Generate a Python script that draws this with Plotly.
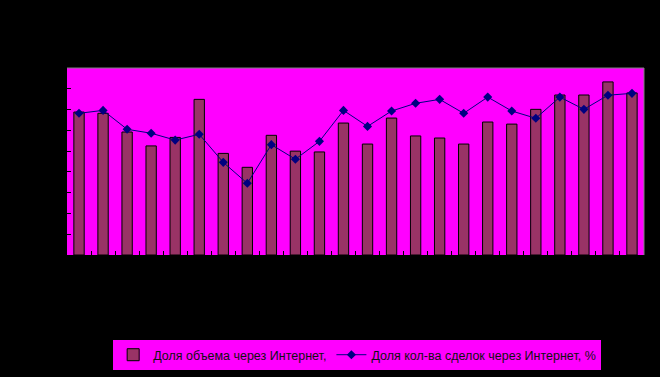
import plotly.graph_objects as go

periods = [str(i) for i in range(1, 25)]
volume_share = [6.88, 6.82, 5.92, 5.25, 5.66, 7.49, 4.89, 4.22, 5.76, 5.00, 4.96, 6.35,
                5.34, 6.59, 5.73, 5.63, 5.34, 6.40, 6.30, 7.01, 7.70, 7.70, 8.33, 7.80]
deals_share = [6.82, 6.96, 6.05, 5.86, 5.53, 5.81, 4.46, 3.45, 5.31, 4.61, 5.47, 6.96,
               6.19, 6.93, 7.30, 7.49, 6.82, 7.60, 6.93, 6.58, 7.60, 7.01, 7.69, 7.78]
y_ticks = list(range(0, 10))

fig = go.Figure()
fig.add_trace(go.Bar(
    x=periods, y=volume_share, name="Доля объема через Интернет,",
    marker=dict(color="#993366", line=dict(color="black", width=1)),
))
fig.add_trace(go.Scatter(
    x=periods, y=deals_share, name="Доля кол-ва сделок через Интернет, %",
    mode="lines+markers",
    line=dict(color="#000080", width=1),
    marker=dict(symbol="diamond", size=7, color="#000080"),
))

fig.update_layout(
    width=660, height=377,
    margin=dict(l=67, r=16, t=68, b=122, autoexpand=False),
    paper_bgcolor="black", plot_bgcolor="#FF00FF",
    bargap=0.57,
    showlegend=True,
    legend=dict(orientation="h", x=0.08, xanchor="left", y=-0.455, yanchor="top",
                bgcolor="#FF00FF", borderwidth=0, tracegroupgap=0,
                font=dict(family="Liberation Sans", size=12.5, color="#111111")),
    font=dict(family="Liberation Sans", size=11, color="black"),
)
fig.update_xaxes(type="category", range=[-0.5, 23.5], tickson="boundaries",
                 ticks="inside", ticklen=4, automargin=False,
                 tickcolor="black", showgrid=False, showline=True, linecolor="black",
                 linewidth=1, tickfont=dict(color="black"))
fig.update_yaxes(range=[0, 9], tickvals=y_ticks, ticks="inside", ticklen=4,
                 automargin=False,
                 tickcolor="black", showgrid=False, zeroline=False, showline=True,
                 linecolor="black", linewidth=1, tickfont=dict(color="black"))
fig.add_shape(type="line", xref="paper", yref="paper", x0=0, x1=1, y0=1, y1=1,
              line=dict(color="#808080", width=1))
fig.add_shape(type="line", xref="paper", yref="paper", x0=1, x1=1, y0=0, y1=1,
              line=dict(color="#808080", width=1))
fig.write_html("out.html")
